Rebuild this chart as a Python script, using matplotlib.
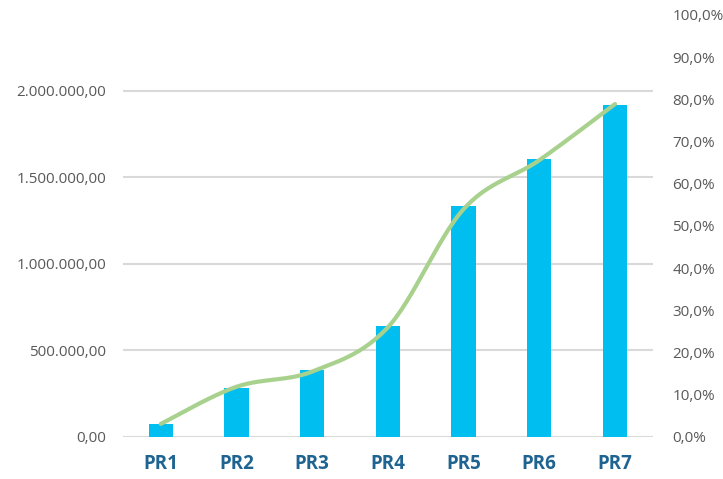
import numpy as np
import matplotlib
matplotlib.use("Agg")
from matplotlib import pyplot as plt
from matplotlib.ticker import FuncFormatter

plt.rcParams['font.family'] = ['Open Sans', 'DejaVu Sans']

# data
categories = ['PR1', 'PR2', 'PR3', 'PR4', 'PR5', 'PR6', 'PR7']
amounts = [75000, 283000, 390000, 641000, 1335000, 1605000, 1919000]
share = [0.031, 0.119, 0.155, 0.260, 0.540, 0.656, 0.789]
left_ticks = [0, 500000, 1000000, 1500000, 2000000]
right_ticks = [0.0, 0.1, 0.2, 0.3, 0.4, 0.5, 0.6, 0.7, 0.8, 0.9, 1.0]


def smooth(xs, ys, n=30):
    # Excel style smoothed line: cubic Bezier segments with Catmull-Rom tangents
    xs = np.asarray(xs, float)
    ys = np.asarray(ys, float)
    px = np.concatenate([[xs[0]], xs, [xs[-1]]])
    py = np.concatenate([[ys[0]], ys, [ys[-1]]])
    ox, oy = [], []
    t = np.linspace(0, 1, n)
    for i in range(1, len(px) - 2):
        p0 = np.array([px[i], py[i]])
        p3 = np.array([px[i + 1], py[i + 1]])
        c1 = p0 + (np.array([px[i + 1], py[i + 1]]) - np.array([px[i - 1], py[i - 1]])) / 6
        c2 = p3 - (np.array([px[i + 2], py[i + 2]]) - np.array([px[i], py[i]])) / 6
        pts = ((1 - t) ** 3)[:, None] * p0 + (3 * (1 - t) ** 2 * t)[:, None] * c1 \
            + (3 * (1 - t) * t ** 2)[:, None] * c2 + (t ** 3)[:, None] * p3
        ox.extend(pts[:, 0])
        oy.extend(pts[:, 1])
    return ox, oy


def eu_number(v, pos=None):
    s = f"{v:,.2f}"
    return s.replace(',', 'X').replace('.', ',').replace('X', '.')


def eu_pct(v, pos=None):
    return f"{v * 100:.1f}%".replace('.', ',')


fig = plt.figure(figsize=(7.23, 4.79), dpi=100)
ax = fig.add_axes([0.170, 0.0877, 0.733, 0.881])
x = np.arange(len(categories))

ax.bar(x, amounts, width=0.32, color='#00BFF0', zorder=3)
ax.set_xlim(-0.5, len(categories) - 0.5)
ax.set_ylim(0, 2000000 * 422 / 346)
ax.set_yticks(left_ticks)
ax.yaxis.set_major_formatter(FuncFormatter(eu_number))
ax.grid(axis='y', color='#D9D9D9', linewidth=1.5, zorder=0)
ax.set_xticks(x)
ax.set_xticklabels(categories, fontsize=13.5, fontweight='bold', color='#1F6391')
ax.tick_params(axis='x', length=0, pad=12)
ax.tick_params(axis='y', length=0, pad=12, labelsize=11, labelcolor='#595959')
for s in ax.spines.values():
    s.set_visible(False)

ax2 = ax.twinx()
ax2.set_ylim(0, 1)
ax2.set_yticks(right_ticks)
ax2.yaxis.set_major_formatter(FuncFormatter(eu_pct))
ax2.tick_params(axis='y', length=0, pad=14, labelsize=11, labelcolor='#595959')
for s in ax2.spines.values():
    s.set_visible(False)
sx, sy = smooth(x, share)
ax2.plot(sx, sy, color='#A9D18E', linewidth=3, solid_capstyle='round', zorder=4)

fig.savefig('out.png', dpi=100)
